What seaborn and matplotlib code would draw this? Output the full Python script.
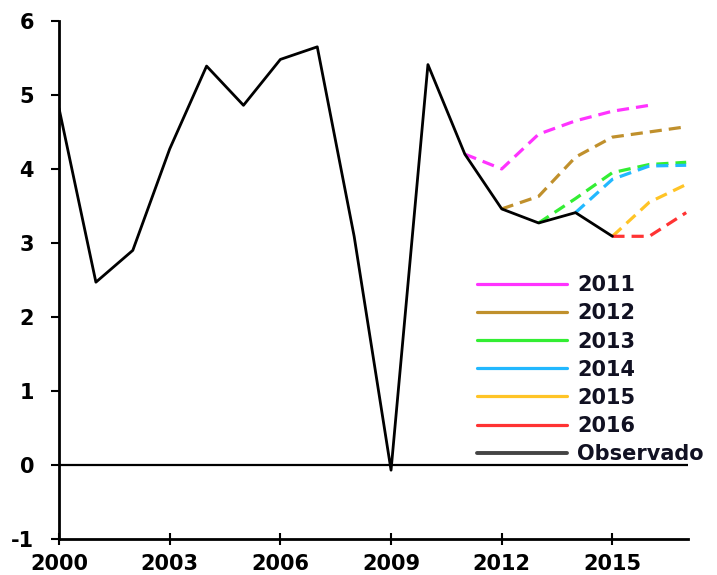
import pandas as pd
import numpy as np
import matplotlib
matplotlib.use('Agg')
import matplotlib.pyplot as plt
import seaborn as sns
from matplotlib.lines import Line2D

sns.set_theme(style="white")
plt.rcParams['font.family'] = ['DejaVu Sans']
plt.rcParams['font.weight'] = 'bold'
plt.rcParams['axes.unicode_minus'] = False

# observed series
obs_years = list(range(2000, 2016))
obs_values = [4.82, 2.47, 2.90, 4.27, 5.39, 4.86, 5.48, 5.65, 3.09, -0.07,
              5.41, 4.20, 3.46, 3.27, 3.41, 3.09]

# forecast vintages
f2011_years = [2011, 2012, 2013, 2014, 2015, 2016]
f2011_values = [4.20, 4.00, 4.47, 4.65, 4.78, 4.86]
f2012_years = [2012, 2013, 2014, 2015, 2016, 2017]
f2012_values = [3.46, 3.63, 4.16, 4.43, 4.50, 4.57]
f2013_years = [2013, 2014, 2015, 2016, 2017]
f2013_values = [3.27, 3.60, 3.95, 4.06, 4.09]
f2014_years = [2014, 2015, 2016, 2017]
f2014_values = [3.41, 3.86, 4.04, 4.05]
f2015_years = [2015, 2016, 2017]
f2015_values = [3.09, 3.55, 3.79]
f2016_years = [2015, 2016, 2017]
f2016_values = [3.09, 3.09, 3.41]

labels = ['2011', '2012', '2013', '2014', '2015', '2016']
colors = ['#FF33FF', '#C0902C', '#33EE33', '#22B8FF', '#FFC426', '#FF3333']
forecasts = [(f2011_years, f2011_values), (f2012_years, f2012_values),
             (f2013_years, f2013_values), (f2014_years, f2014_values),
             (f2015_years, f2015_values), (f2016_years, f2016_values)]

fig = plt.figure(figsize=(7.17, 5.75), dpi=100)
ax = fig.add_axes([0.0823, 0.0626, 0.8773, 0.901])

ax.axhline(0, color='black', lw=1.6, zorder=1)

for (yrs, vals), c in zip(forecasts, colors):
    df = pd.DataFrame({'year': yrs, 'value': vals})
    sns.lineplot(data=df, x='year', y='value', ax=ax, color=c, lw=2.3,
                 dashes=False, zorder=2)
    ax.lines[-1].set_dashes((3.8, 2.2))

obs_df = pd.DataFrame({'year': obs_years, 'value': obs_values})
sns.lineplot(data=obs_df, x='year', y='value', ax=ax, color='black', lw=2.0, zorder=3)

ax.set_xlim(2000, 2017.05)
ax.set_ylim(-1, 6)
ax.set_xticks([2000, 2003, 2006, 2009, 2012, 2015])
ax.set_yticks(range(-1, 7))
ax.set_xlabel('')
ax.set_ylabel('')

for s in ['top', 'right']:
    ax.spines[s].set_visible(False)
for s in ['left', 'bottom']:
    ax.spines[s].set_color('black')
    ax.spines[s].set_linewidth(2.0)

ax.tick_params(axis='y', direction='out', length=6, width=1.5, pad=12,
               labelsize=15, colors='black', left=True)
ax.tick_params(axis='x', direction='inout', length=8, width=1.5, pad=7,
               labelsize=15, colors='black', bottom=True)

handles = [Line2D([0], [0], color=c, lw=2.3) for c in colors]
handles.append(Line2D([0], [0], color='#444444', lw=2.8))
leg = ax.legend(handles, labels + ['Observado'], loc='lower left',
                bbox_to_anchor=(477 / 717, 1 - 464 / 575),
                bbox_transform=fig.transFigure, frameon=False, fontsize=15,
                handlelength=4.3, handletextpad=0.5, labelspacing=0.39,
                borderaxespad=0, borderpad=0)
for t in leg.get_texts():
    t.set_color('#111122')

fig.savefig('out.png', dpi=100)
